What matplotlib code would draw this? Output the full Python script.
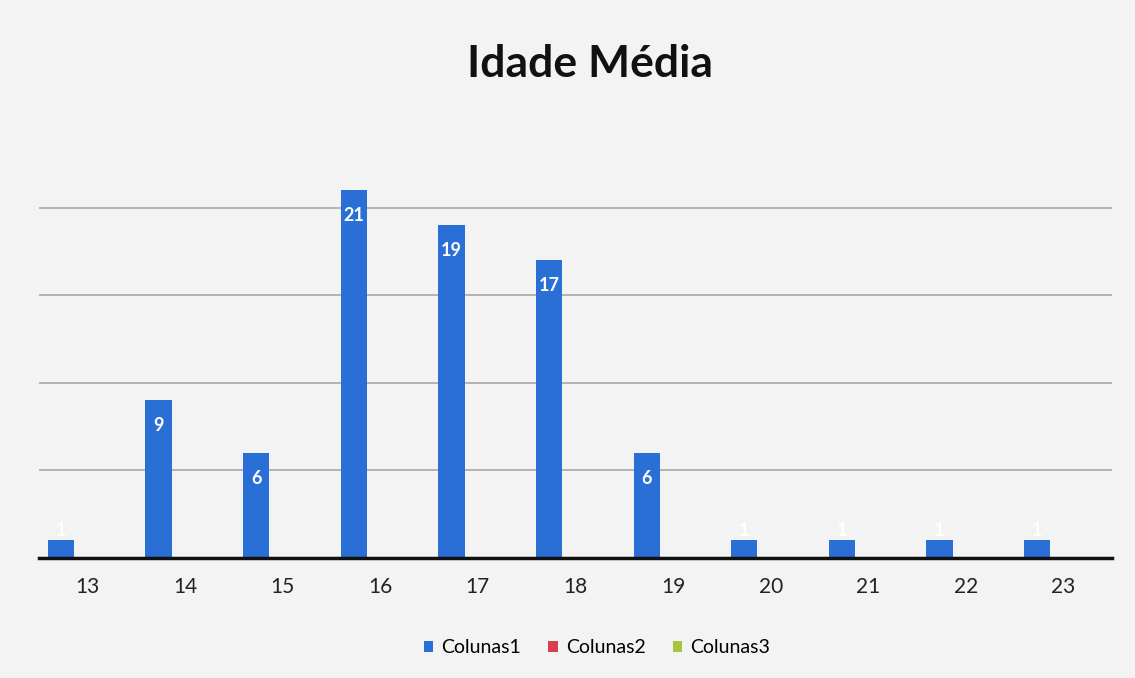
import numpy as np
import matplotlib.pyplot as plt

# dados
idades = ["13", "14", "15", "16", "17", "18", "19", "20", "21", "22", "23"]
colunas1 = [1, 9, 6, 21, 19, 17, 6, 1, 1, 1, 1]
colunas2 = [0, 0, 0, 0, 0, 0, 0, 0, 0, 0, 0]
colunas3 = [0, 0, 0, 0, 0, 0, 0, 0, 0, 0, 0]
series_nomes = ["Colunas1", "Colunas2", "Colunas3"]

plt.rcParams['font.family'] = ['Lato', 'DejaVu Sans']
fundo = '#f3f3f3'

fig = plt.figure(figsize=(11.35, 6.78), dpi=100)
fig.patch.set_facecolor(fundo)
ax = fig.add_axes([0.034, 0.177, 0.946, 0.646])
ax.set_facecolor(fundo)

x = np.arange(len(idades))
w = 0.27
cores = ['#2a6fd6', '#d9404f', '#a9c440']
for k, (vals, cor) in enumerate(zip([colunas1, colunas2, colunas3], cores)):
    ax.bar(x + (k - 1) * w, vals, width=w, color=cor, label=series_nomes[k], zorder=3)

# rotulos brancos dentro da barra (nas barras curtas ficam acima)
for xi, v in zip(x, colunas1):
    if v > 2:
        ax.annotate(str(v), (xi - w, v), xytext=(0, -12), textcoords='offset points',
                    ha='center', va='top', color='white', fontsize=13, fontweight='bold', zorder=4)
    else:
        ax.annotate(str(v), (xi - w, v), xytext=(0, 1), textcoords='offset points',
                    ha='center', va='bottom', color='white', fontsize=13, fontweight='bold', zorder=4)

ax.set_xlim(-0.5, len(idades) - 0.5)
ax.set_ylim(0, 25)
ax.set_yticks([5, 10, 15, 20])
ax.yaxis.grid(True, color='#a8a8a8', linewidth=1.2, zorder=0)
ax.tick_params(axis='y', left=False, labelleft=False)
ax.set_xticks(x)
ax.set_xticklabels(idades, fontsize=15, color='#222222')
ax.tick_params(axis='x', length=0, pad=14)
for s in ['top', 'right', 'left']:
    ax.spines[s].set_visible(False)
ax.spines['bottom'].set_linewidth(2.5)
ax.spines['bottom'].set_color('#111111')
ax.spines['bottom'].set_zorder(5)

fig.text(0.52, 0.905, "Idade Média", ha='center', va='center', fontsize=32, fontweight='bold', color='#111111')

leg = ax.legend(loc='center', bbox_to_anchor=(0.52, -0.205), ncol=3, frameon=False,
                fontsize=14, handlelength=0.5, handleheight=0.5, columnspacing=1.4, handletextpad=0.4)

plt.savefig("out.png", dpi=100, facecolor=fundo)
